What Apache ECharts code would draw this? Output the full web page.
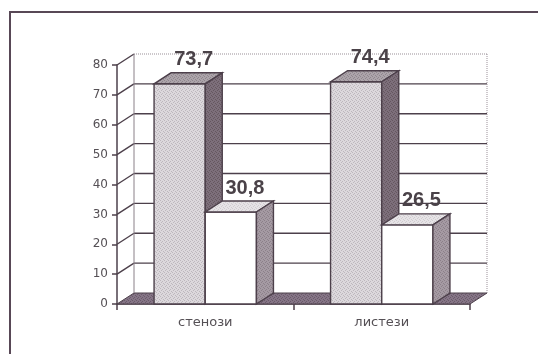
<!DOCTYPE html>
<html>
<head>
<meta charset="utf-8">
<script src="https://cdn.jsdelivr.net/npm/echarts@6/dist/echarts.min.js"></script>
<style>
  html, body { margin: 0; padding: 0; background: #ffffff; }
  #chart { width: 538px; height: 354px; }
</style>
</head>
<body>
<div id="chart"></div>
<script>
// Categories and the two value series
const categories = ['стенози', 'листези'];
const seriesA = [73.7, 74.4];
const seriesB = [30.8, 26.5];
const yTicks = [0, 10, 20, 30, 40, 50, 60, 70, 80];

// Depth offset of the pseudo-3D walls and bars
const DX = 17, DY = -11;
const EDGE = '#4d404b';
const GAP = 0.42;

// Small stippled tile used as a halftone fill
function stipple(base, dot) {
  const c = document.createElement('canvas');
  c.width = 4; c.height = 4;
  const g = c.getContext('2d');
  g.fillStyle = base; g.fillRect(0, 0, 4, 4);
  g.fillStyle = dot;
  g.fillRect(0, 0, 1, 1);
  g.fillRect(2, 1, 1, 1);
  g.fillRect(1, 2, 1, 1);
  g.fillRect(3, 3, 1, 1);
  return { image: c, repeat: 'repeat' };
}

const chart = echarts.init(document.getElementById('chart'), null, { renderer: 'canvas' });

function fmt(v) { return String(v).replace('.', ','); }

function wallItem(params, api) {
  const cs = params.coordSys;
  const v = api.value(1);
  const y = api.coord([0, v])[1];
  const x0 = cs.x, x1 = cs.x + cs.width;
  const children = [];
  if (v === 0) {
    children.push({
      type: 'polygon',
      shape: { points: [[x0, y], [x1, y], [x1 + DX, y + DY], [x0 + DX, y + DY]] },
      style: { fill: stipple('#857586', '#6a5a6a'), stroke: EDGE, lineWidth: 1 }
    });
    return { type: 'group', children };
  }
  const top = v === yTicks[yTicks.length - 1];
  children.push({
    type: 'line',
    shape: { x1: x0, y1: y, x2: x0 + DX, y2: y + DY },
    style: { stroke: EDGE, lineWidth: 1.4 }
  });
  children.push({
    type: 'line',
    shape: { x1: x0 + DX, y1: y + DY, x2: x1 + DX, y2: y + DY },
    style: top ? { stroke: '#9a9098', lineWidth: 1, lineDash: [1, 1] }
               : { stroke: EDGE, lineWidth: 1.4 }
  });
  if (top) {
    const yb = api.coord([0, 0])[1];
    children.push({
      type: 'line',
      shape: { x1: x0 + DX, y1: y + DY, x2: x0 + DX, y2: yb + DY },
      style: { stroke: '#8a8088', lineWidth: 1 }
    });
    children.push({
      type: 'line',
      shape: { x1: x1 + DX, y1: y + DY, x2: x1 + DX, y2: yb + DY },
      style: { stroke: '#9a9098', lineWidth: 1, lineDash: [1, 1] }
    });
  }
  return { type: 'group', children };
}

function barRenderer(slot, colors) {
  return function (params, api) {
    const c0 = api.coord([api.value(0), 0]);
    const c1 = api.coord([api.value(0), api.value(1)]);
    const band = api.size([1, 0])[0];
    const bw = band * (1 - GAP) / 2;
    const x = c0[0] - bw + slot * bw;
    const top = c1[1], bot = c0[1];
    return {
      type: 'group',
      children: [
        {
          type: 'rect',
          shape: { x: x, y: top, width: bw, height: bot - top },
          style: { fill: colors.front, stroke: EDGE, lineWidth: 1.4 }
        },
        {
          type: 'polygon',
          shape: { points: [[x, top], [x + bw, top], [x + bw + DX, top + DY], [x + DX, top + DY]] },
          style: { fill: colors.top, stroke: EDGE, lineWidth: 1.4 }
        },
        {
          type: 'polygon',
          shape: { points: [[x + bw, top], [x + bw + DX, top + DY], [x + bw + DX, bot + DY], [x + bw, bot]] },
          style: { fill: colors.side, stroke: EDGE, lineWidth: 1.4 }
        },
        {
          type: 'text',
          style: {
            x: x + bw / 2 + 14,
            y: top + DY - 3,
            text: fmt(api.value(1)),
            align: 'center',
            verticalAlign: 'bottom',
            font: 'bold 20px "Liberation Sans", Arial, sans-serif',
            fill: '#4a4248'
          }
        }
      ]
    };
  };
}

const option = {
  animation: false,
  backgroundColor: '#ffffff',
  grid: { left: 117, top: 65, right: 68, bottom: 50 },
  graphic: [{
    type: 'rect',
    shape: { x: 10, y: 12, width: 600, height: 400 },
    style: { fill: 'none', stroke: '#584856', lineWidth: 2 },
    silent: true
  }],
  xAxis: {
    type: 'category',
    data: categories,
    boundaryGap: true,
    axisLine: { show: true, lineStyle: { color: EDGE, width: 1.5 } },
    axisTick: { show: true, length: 6, lineStyle: { color: EDGE, width: 1.5 } },
    axisLabel: {
      margin: 12,
      color: '#555055',
      fontFamily: '"DejaVu Sans", sans-serif',
      fontSize: 13
    },
    splitLine: { show: false }
  },
  yAxis: {
    type: 'value',
    min: 0, max: 80, interval: 10,
    axisLine: { show: true, lineStyle: { color: EDGE, width: 1.5 } },
    axisTick: { show: true, length: 5, lineStyle: { color: EDGE, width: 1.5 } },
    axisLabel: {
      margin: 9,
      color: '#555055',
      fontFamily: '"DejaVu Sans", sans-serif',
      fontSize: 12,
      formatter: function (v) { return yTicks.indexOf(v) >= 0 ? String(v) : ''; }
    },
    splitLine: { show: false }
  },
  series: [
    {
      type: 'custom',
      name: 'walls',
      z: 1,
      silent: true,
      renderItem: wallItem,
      data: yTicks.map(v => [0, v])
    },
    {
      type: 'custom',
      name: 'A',
      z: 3,
      renderItem: barRenderer(0, {
        front: stipple('#dcd8dc', '#bdb7bd'),
        top: stipple('#aca4aa', '#8f868d'),
        side: stipple('#7d6f7b', '#65575f')
      }),
      data: categories.map((c, i) => [i, seriesA[i]])
    },
    {
      type: 'custom',
      name: 'B',
      z: 4,
      renderItem: barRenderer(1, {
        front: '#ffffff',
        top: stipple('#e6e3e6', '#d0ccd0'),
        side: stipple('#a59aa3', '#8c8089')
      }),
      data: categories.map((c, i) => [i, seriesB[i]])
    }
  ]
};

chart.setOption(option);
</script>
</body>
</html>
